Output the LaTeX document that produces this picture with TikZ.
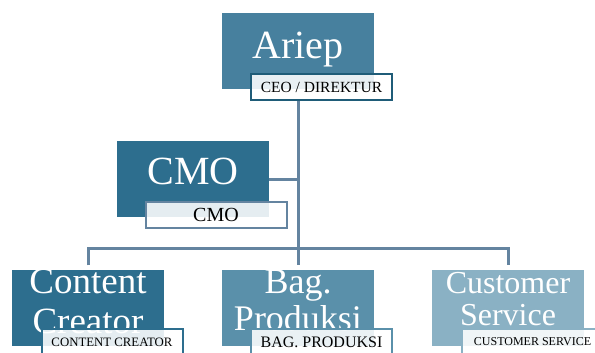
\documentclass[tikz,border=0pt]{standalone}
\usepackage{fontspec}
\setmainfont{Liberation Serif}
\usepackage{tikz}

\definecolor{boxdark}{HTML}{2D6E8E}
\definecolor{boxmid}{HTML}{47809E}
\definecolor{boxsoft}{HTML}{5A90AA}
\definecolor{boxpale}{HTML}{8AB1C4}
\definecolor{linkgray}{HTML}{6484A0}
\definecolor{ceoedge}{HTML}{1F5C78}

\tikzset{
    unitbox/.style={minimum width=152pt, minimum height=76pt, inner sep=0pt},
    unittext/.style={text=white, align=center, inner sep=0pt},
    rolebox/.style={draw, line width=2pt, fill=white, fill opacity=0.88,
        text opacity=1, minimum width=141pt, minimum height=26pt, inner sep=0pt},
    conn/.style={draw=linkgray, line width=3pt}
}

\begin{document}
\begin{tikzpicture}[x=1pt, y=-1pt]
    \useasboundingbox (0,0) rectangle (595,353);

    % Units
    \node[unitbox, fill=boxmid] (ariep) at (298,51) {};
    \node[unitbox, fill=boxdark] (cmo) at (193,179) {};
    \node[unitbox, fill=boxdark] (cc) at (88,307.5) {};
    \node[unitbox, fill=boxsoft] (bp) at (298,307.5) {};
    \node[unitbox, fill=boxpale] (cs) at (508,307.5) {};

    % Names inside the units
    \node[unittext, font=\fontsize{40}{42}\selectfont] at ([yshift=1pt]ariep.center) {Ariep};
    \node[unittext, font=\fontsize{40}{42}\selectfont] at ([yshift=7.5pt]cmo.center) {CMO};
    \node[unittext, font=\fontsize{37}{40}\selectfont] at ([yshift=6pt]cc.center) {Content\\Creator};
    \node[unittext, font=\fontsize{36}{37}\selectfont] at ([yshift=7pt]bp.center) {Bag.\\Produksi};
    \node[unittext, font=\fontsize{32}{32}\selectfont] at ([yshift=8pt]cs.center) {Customer\\Service};

    % Role labels
    \node[rolebox, draw=ceoedge, font=\fontsize{15.5}{17}\selectfont] (ceolbl) at ([xshift=23.5pt,yshift=-36pt]ariep.center) {CEO / DIREKTUR};
    \node[rolebox, draw=linkgray, font=\fontsize{20}{22}\selectfont] (cmolbl) at ([xshift=23pt,yshift=-36pt]cmo.center) {CMO};
    \node[rolebox, draw=boxdark, font=\fontsize{12.8}{14}\selectfont] (cclbl) at ([xshift=24pt,yshift=-34.5pt]cc.center) {CONTENT CREATOR};
    \node[rolebox, draw=boxsoft, font=\fontsize{16}{18}\selectfont] (bplbl) at ([xshift=23.5pt,yshift=-34.5pt]bp.center) {BAG. PRODUKSI};
    \node[rolebox, draw=boxpale, font=\fontsize{12}{14}\selectfont] (cslbl) at ([xshift=24.5pt,yshift=-34.5pt]cs.center) {CUSTOMER SERVICE};

    % Connectors
    \coordinate (bus) at (298,248);
    \draw[conn] (ceolbl.south -| ariep.south) -- (bus);
    \draw[conn] (cmo.east) -- (cmo.east -| bus);
    \draw[conn, shorten <=4pt, shorten >=4pt] (cc.north) |- (bus) -| (cs.north);
    \draw[conn, shorten >=4pt] (bus) -- (bp.north);
\end{tikzpicture}
\end{document}
